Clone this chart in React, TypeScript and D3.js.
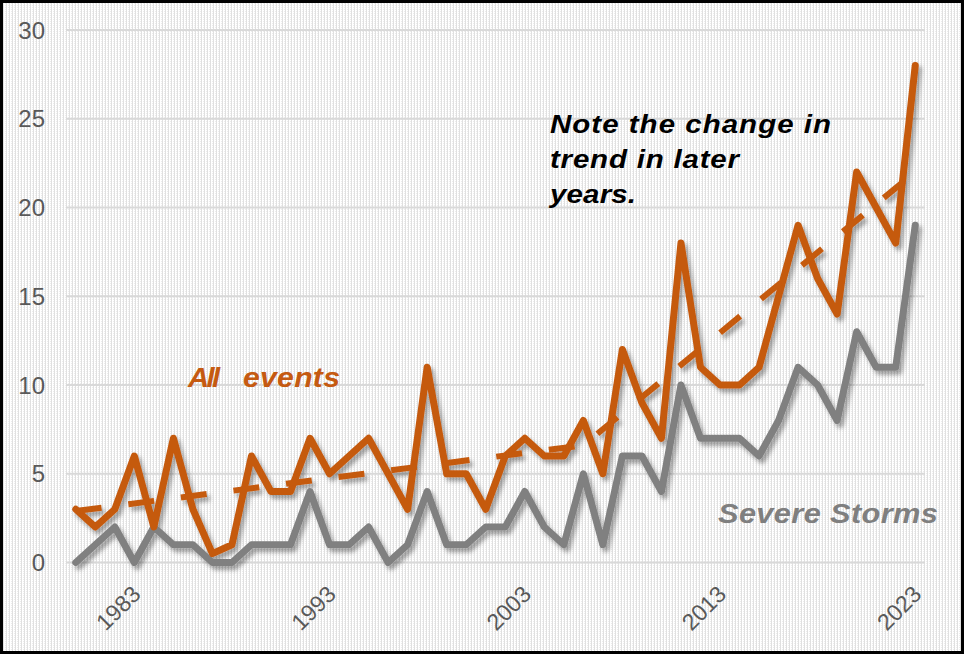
import React from "react";
import * as d3 from "d3";

// Billion-dollar disaster events per year, 1980–2023
const years: number[] = [
  1980, 1981, 1982, 1983, 1984, 1985, 1986, 1987, 1988, 1989,
  1990, 1991, 1992, 1993, 1994, 1995, 1996, 1997, 1998, 1999,
  2000, 2001, 2002, 2003, 2004, 2005, 2006, 2007, 2008, 2009,
  2010, 2011, 2012, 2013, 2014, 2015, 2016, 2017, 2018, 2019,
  2020, 2021, 2022, 2023,
];

const allEvents: number[] = [
  3, 2, 3, 6, 2, 7, 3, 0.5, 1, 6,
  4, 4, 7, 5, 6, 7, 5, 3, 11, 5,
  5, 3, 6, 7, 6, 6, 8, 5, 12, 9,
  7, 18, 11, 10, 10, 11, 15, 19, 16, 14,
  22, 20, 18, 28,
];

const severeStorms: number[] = [
  0, 1, 2, 0, 2, 1, 1, 0, 0, 1,
  1, 1, 4, 1, 1, 2, 0, 1, 4, 1,
  1, 2, 2, 4, 2, 1, 5, 1, 6, 6,
  4, 10, 7, 7, 7, 6, 8, 11, 10, 8,
  13, 11, 11, 19,
];

// Piecewise trend of all events: earlier years and later years
const trendYears: number[] = [1980, 2006, 2023];
const trendValues: number[] = [2.9, 6.6, 22.0];

const yTicks: number[] = [0, 5, 10, 15, 20, 25, 30];
const xTickLabels: string[] = ["1983", "1993", "2003", "2013", "2023"];

const noteLines: string[] = ["Note the change in", "trend in later", "years."];

const ORANGE = "#C55A11";
const GRAY = "#808080";
const FONT = "'Liberation Sans', Arial, Helvetica, sans-serif";

// Horizontally widened bold-italic label
function WideText(props: {
  x: number;
  y: number;
  size: number;
  fill: string;
  width: number;
  stretch: number;
  children: string;
}) {
  const { x, y, size, fill, width, stretch, children } = props;
  return (
    <text
      transform={`translate(${x} ${y}) scale(${stretch} 1)`}
      fontSize={size}
      fill={fill}
      textLength={width / stretch}
      lengthAdjust="spacing"
    >
      {children}
    </text>
  );
}

export default function App() {
  const width = 964;
  const height = 654;

  const x = d3
    .scalePoint<number>()
    .domain(years)
    .range([66, 925])
    .padding(0.5);
  const y = d3.scaleLinear().domain([0, 30]).range([562.5, 30]);

  const line = d3
    .line<[number, number]>()
    .x((d) => x(d[0]) as number)
    .y((d) => y(d[1]));

  const allPath = line(years.map((yr, i) => [yr, allEvents[i]]) as [number, number][]) || "";
  const stormPath = line(years.map((yr, i) => [yr, severeStorms[i]]) as [number, number][]) || "";
  const trendPath = line(trendYears.map((yr, i) => [yr, trendValues[i]]) as [number, number][]) || "";

  const noteWidths = [281, 189, 86];

  return (
    <svg
      width={width}
      height={height}
      viewBox={`0 0 ${width} ${height}`}
      style={{ position: "absolute", left: 0, top: 0, display: "block" }}
    >
      <defs>
        <pattern id="bgTexture" width="3" height="2" patternUnits="userSpaceOnUse">
          <rect width="3" height="2" fill="#ffffff" />
          <rect x="0" y="0" width="1" height="2" fill="#e0e0e0" />
          <rect x="2" y="1" width="1" height="1" fill="#ececec" />
        </pattern>
        <filter id="lineShadow" x="-5%" y="-5%" width="110%" height="115%">
          <feDropShadow dx="3" dy="4" stdDeviation="2.2" floodColor="#000" floodOpacity="0.35" />
        </filter>
      </defs>

      <rect x={0} y={0} width={width} height={height} fill="url(#bgTexture)" />

      {/* horizontal gridlines */}
      <g>
        {yTicks.map((t) => (
          <line
            key={t}
            x1={66}
            x2={925}
            y1={y(t)}
            y2={y(t)}
            stroke="#d9d9d9"
            strokeWidth={2}
          />
        ))}
      </g>

      {/* y-axis labels */}
      <g fontFamily={FONT} fontSize={24} fill="#595959">
        {yTicks.map((t) => (
          <text key={t} x={45} y={y(t)} textAnchor="end" dominantBaseline="central">
            {t}
          </text>
        ))}
      </g>

      {/* x-axis labels, rotated */}
      <g fontFamily={FONT} fontSize={23} fill="#595959">
        {xTickLabels.map((lbl) => {
          const px = (x(+lbl) as number) + 2;
          const py = 590;
          return (
            <text
              key={lbl}
              x={px}
              y={py}
              textAnchor="end"
              dominantBaseline="central"
              transform={`rotate(-45 ${px} ${py})`}
            >
              {lbl}
            </text>
          );
        })}
      </g>

      {/* series lines */}
      <g filter="url(#lineShadow)">
        <path
          d={stormPath}
          fill="none"
          stroke={GRAY}
          strokeWidth={7}
          strokeLinejoin="round"
          strokeLinecap="round"
        />
        <path
          d={allPath}
          fill="none"
          stroke={ORANGE}
          strokeWidth={7}
          strokeLinejoin="round"
          strokeLinecap="round"
        />
        <path
          d={trendPath}
          fill="none"
          stroke={ORANGE}
          strokeWidth={6}
          strokeDasharray="26 27"
          strokeLinecap="butt"
        />
      </g>

      {/* annotations */}
      <g fontFamily={FONT} fontWeight="bold" fontStyle="italic">
        <WideText x={188} y={387} size={27} fill={ORANGE} width={32} stretch={1.08}>
          All
        </WideText>
        <WideText x={243} y={387} size={27} fill={ORANGE} width={97} stretch={1.12}>
          events
        </WideText>
        <WideText x={718} y={523} size={28} fill="#7f7f7f" width={220} stretch={1.1}>
          Severe Storms
        </WideText>
        {noteLines.map((ln, i) => (
          <WideText
            key={ln}
            x={550}
            y={133 + i * 35}
            size={25}
            fill="#000000"
            width={noteWidths[i]}
            stretch={1.18}
          >
            {ln}
          </WideText>
        ))}
      </g>

      {/* outer frame */}
      <rect
        x={1.5}
        y={1.5}
        width={width - 3}
        height={height - 3}
        fill="none"
        stroke="#000000"
        strokeWidth={3}
      />
    </svg>
  );
}
